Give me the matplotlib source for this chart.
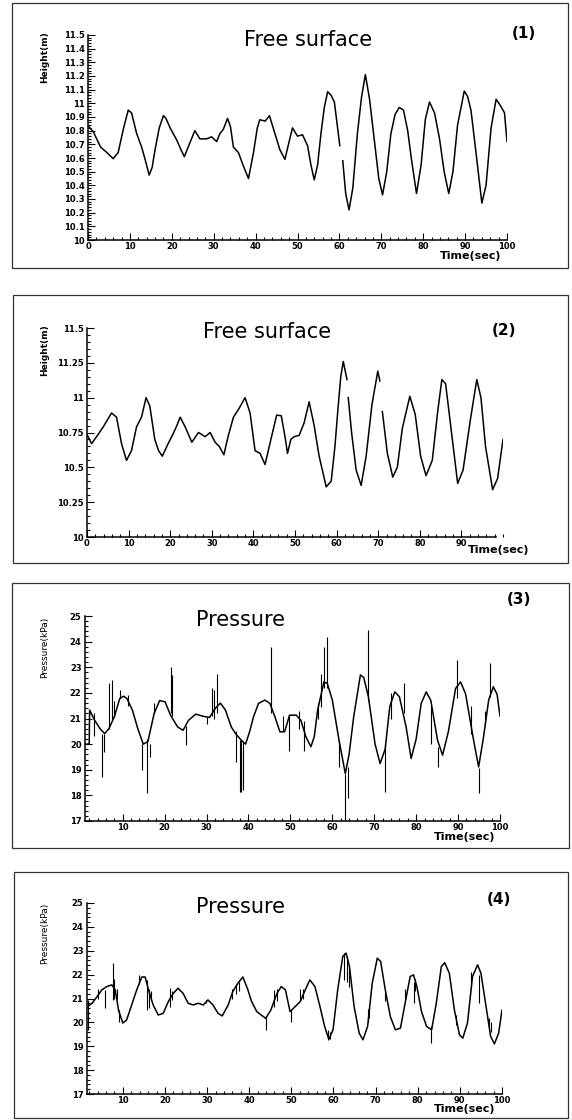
import numpy as np
import matplotlib
matplotlib.use('Agg')
import matplotlib.pyplot as plt
import matplotlib.patches as patches
from matplotlib.ticker import MultipleLocator, FuncFormatter

W, H = 572, 1120
nan = np.nan

# ---- (1) free surface ----
t1 = [0.2, 1.3, 3, 4.5, 6, 7.2, 8.5, 9.6, 10.4, 11.6, 12.8, 13.8, 14.6, 15.3, 16, 17, 18, 18.6,
      19.6, 21.2, 22.2, 23, 24.3, 25.5, 26.7, 28.3, 29.5, 30.7, 31.5, 32.3, 33.3, 34, 34.7, 35.9,
      37.1, 38.3, 39.5, 40.4, 41, 42.3, 43.3, 44.6, 45.8, 47, 48, 48.8, 50, 51.2, 52.4, 53.2, 54,
      54.8, 55.6, 56.4, 57.2, 58, 58.8, 60.1, 60.4, 60.8, 61.5, 62.3, 63.2, 64.3, 65.3, 66.2, 67.2,
      68.3, 69.4, 70.3, 71.3, 72.3, 73.3, 74.3, 75.3, 76.3, 77.2, 78.4, 79.5, 80.5, 81.5, 82.7,
      83.9, 85, 86.1, 87.1, 88.2, 89.8, 90.6, 91.4, 92.6, 94, 95, 96.2, 97.4, 98.5, 99.4, 100]
h1 = [10.83, 10.79, 10.68, 10.64, 10.595, 10.64, 10.82, 10.95, 10.93, 10.78, 10.68, 10.57, 10.475,
      10.53, 10.66, 10.82, 10.91, 10.89, 10.82, 10.73, 10.66, 10.61, 10.71, 10.80, 10.74, 10.74,
      10.755, 10.72, 10.78, 10.81, 10.89, 10.83, 10.68, 10.64, 10.54, 10.45, 10.64, 10.82, 10.88,
      10.87, 10.91, 10.78, 10.66, 10.59, 10.72, 10.82, 10.76, 10.77, 10.69, 10.55, 10.44, 10.55,
      10.78, 10.97, 11.085, 11.06, 11.01, 10.69, nan, 10.58, 10.34, 10.22, 10.38, 10.78, 11.05,
      11.21, 11.03, 10.74, 10.45, 10.33, 10.50, 10.78, 10.92, 10.97, 10.95, 10.80, 10.59, 10.34,
      10.55, 10.88, 11.01, 10.93, 10.74, 10.50, 10.34, 10.50, 10.84, 11.09, 11.05, 10.95, 10.64,
      10.27, 10.40, 10.82, 11.03, 10.98, 10.93, 10.72]

# ---- (2) free surface ----
t2 = [0.1, 1.1, 2.3, 3.9, 5.9, 7.1, 8.3, 9.5, 10.7, 11.9, 13.1, 14.2, 15.1, 16.3, 17.2, 18.1, 19.5,
      20.7, 21.6, 22.4, 23.6, 25.2, 26.8, 28.4, 29.6, 30.8, 31.8, 32.9, 33.9, 35.2, 36.5, 38, 39.2,
      40.4, 41.6, 42.8, 44.2, 45.6, 46.7, 47.6, 48.2, 49, 49.8, 51, 52.2, 53.4, 54.6, 55.8, 57.5,
      58.7, 59.6, 60.3, 61.0, 61.6, 62.5, 62.65, 62.8, 63.6, 64.7, 65.9, 67.1, 68.5, 69.9, 70.4,
      70.6, 71, 72.2, 73.5, 74.6, 75.8, 77.6, 78.9, 80.2, 81.5, 83, 84.3, 85.3, 86.2, 87.5, 89.1,
      90.4, 92.2, 93.7, 94.7, 95.8, 97.5, 98.7, 100]
h2 = [10.73, 10.67, 10.72, 10.79, 10.89, 10.86, 10.67, 10.55, 10.62, 10.79, 10.86, 11.0, 10.94,
      10.70, 10.62, 10.58, 10.67, 10.74, 10.80, 10.86, 10.79, 10.68, 10.75, 10.72, 10.75, 10.68,
      10.65, 10.59, 10.72, 10.86, 10.92, 11.0, 10.89, 10.62, 10.60, 10.52, 10.70, 10.875, 10.87,
      10.72, 10.60, 10.70, 10.72, 10.73, 10.82, 10.97, 10.80, 10.58, 10.36, 10.40, 10.65, 10.91,
      11.15, 11.26, 11.13, nan, 11.0, 10.75, 10.48, 10.37, 10.58, 10.95, 11.19, 11.12, nan, 10.90,
      10.60, 10.43, 10.50, 10.78, 11.01, 10.88, 10.58, 10.44, 10.55, 10.90, 11.13, 11.10, 10.78,
      10.385, 10.48, 10.85, 11.13, 11.0, 10.65, 10.34, 10.42, 10.70]

# ---- (3) pressure ----
t3 = [0.5, 0.6, 2.0, 2.1, 3.3, 4.6, 5.7, 6.7, 8, 9.3, 10.2, 11, 12.3, 13.6, 14.9, 16, 17.5, 18.8,
      20.1, 21.4, 23.1, 24.4, 25.7, 27.4, 29.1, 30.7, 32.1, 33.3, 34.5, 35.9, 36.9, 38.3, 39.3,
      40.3, 41.2, 42.4, 43.9, 45.1, 46.3, 47.5, 48.6, 49.8, 51.4, 52.5, 53.7, 54.9, 55.7, 56.5,
      58, 58.8, 60, 61.6, 63.1, 64, 65.1, 66.7, 67.5, 68.6, 70.2, 71.4, 72.6, 73.7, 74.9, 76,
      77.6, 78.8, 80, 81.2, 82.4, 83.5, 85.1, 86.3, 87.7, 89.4, 90.6, 91.8, 93.7, 94.9, 96, 97.3,
      98.4, 99.3, 100]
p3 = [21.46, 20.0, 20.0, 21.33, 20.93, 20.6, 20.41, 20.6, 21.07, 21.78, 21.87, 21.78, 21.33, 20.6,
      20.0, 20.1, 21.2, 21.7, 21.65, 21.13, 20.67, 20.54, 20.93, 21.17, 21.09, 21.04, 21.4, 21.6,
      21.33, 20.67, 20.41, 20.15, 20.0, 20.5, 21.07, 21.59, 21.72, 21.59, 21.07, 20.48, 20.48,
      21.13, 21.13, 20.93, 20.28, 19.9, 20.3, 21.33, 22.43, 22.37, 21.72, 20.15, 18.85, 19.6,
      21.07, 22.7, 22.6, 21.85, 20.0, 19.24, 19.8, 21.46, 22.04, 21.85, 20.67, 19.44, 20.2, 21.59,
      22.04, 21.7, 20.15, 19.57, 20.5, 22.17, 22.43, 21.95, 20.15, 19.11, 20.2, 21.72, 22.24,
      21.95, 21.1]
spike3_t = [3.1, 5.0, 5.5, 6.7, 7.4, 8.0, 9.3, 11.3, 14.5, 15.8, 16.4, 17.5, 21.4, 21.8, 25.1,
            30.1, 31.4, 31.7, 32.4, 37.0, 38.0, 38.3, 38.6, 45.3, 48.3, 49.6, 52.0, 53.2, 56.5,
            57.3, 57.9, 58.8, 61.6, 63.1, 63.7, 68.5, 72.5, 74.1, 77.1, 83.5, 85.3, 89.8, 93.0,
            95.1, 96.5, 97.6]
spike3_lo = [20.3, 18.7, 19.7, 20.6, 21.0, 21.1, 21.8, 21.5, 19.0, 18.1, 19.5, 21.2, 21.2, 21.1,
             19.95, 20.8, 21.1, 21.0, 21.2, 19.3, 18.15, 18.15, 18.2, 21.2, 20.5, 19.75, 20.6,
             19.75, 21.0, 21.45, 22.2, 22.2, 19.1, 17.0, 17.9, 21.7, 18.15, 21.0, 21.2, 20.0,
             19.1, 21.8, 20.4, 18.1, 20.7, 21.85]
spike3_hi = [21.2, 20.4, 20.4, 22.4, 22.5, 21.7, 22.1, 21.9, 20.0, 20.2, 20.0, 21.6, 23.0, 22.7,
             20.7, 21.05, 22.2, 22.1, 22.75, 20.5, 20.15, 20.15, 20.1, 23.8, 21.1, 21.13, 21.3,
             20.9, 21.6, 22.75, 23.8, 24.2, 20.15, 18.85, 19.1, 24.45, 20.0, 22.0, 22.4, 21.5,
             19.9, 23.3, 21.5, 19.05, 21.3, 23.15]

# ---- (4) pressure ----
t4 = [1.65, 2.7, 3.9, 5, 6.2, 7.4, 8.2, 9, 10, 10.9, 12.1, 13.3, 14.5, 15.3, 16.1, 17.2, 18.4,
      19.6, 20.8, 22, 23.1, 24.3, 25.5, 26.7, 27.9, 29.1, 30.2, 31.4, 32.6, 33.6, 35, 36.1, 37.3,
      38.5, 39.7, 40.5, 41.8, 43.9, 45.1, 46.6, 47.6, 48.6, 49.7, 50.9, 52.1, 53.3, 54.4, 55.6,
      56.8, 57.9, 58.9, 59.9, 61, 62.2, 63, 63.8, 64.9, 66.1, 67, 68.1, 69.2, 70.4, 71.2, 72.3,
      73.5, 74.7, 75.9, 77, 78.2, 79, 79.8, 80.9, 82.1, 83.3, 84.4, 85.6, 86.4, 87.5, 88.7, 89.9,
      90.7, 91.8, 93, 94.2, 95, 96.1, 97.3, 98.2, 99.2, 100]
p4 = [20.66, 20.8, 21.08, 21.36, 21.5, 21.57, 21.36, 20.5, 19.97, 20.1, 20.73, 21.36, 21.9, 21.9,
      21.36, 20.73, 20.31, 20.38, 20.87, 21.22, 21.43, 21.22, 20.8, 20.73, 20.8, 20.73, 20.94,
      20.73, 20.38, 20.27, 20.73, 21.29, 21.64, 21.9, 21.36, 20.9, 20.45, 20.17, 20.5, 21.22,
      21.5, 21.36, 20.45, 20.66, 20.87, 21.36, 21.78, 21.5, 20.66, 19.83, 19.29, 19.69, 21.36,
      22.76, 22.9, 22.34, 20.66, 19.55, 19.27, 19.83, 21.64, 22.69, 22.55, 21.36, 20.24, 19.69,
      19.76, 20.8, 21.92, 21.99, 21.5, 20.45, 19.83, 19.69, 20.8, 22.34, 22.5, 22.06, 20.52,
      19.48, 19.34, 19.97, 21.92, 22.41, 22.06, 20.8, 19.41, 19.1, 19.55, 20.52]
spike4_t = [1.65, 4.2, 5.8, 7.6, 8.0, 8.6, 9.2, 13.9, 15.8, 16.3, 16.8, 21.2, 21.6, 29.8, 36.0,
            36.8, 37.6, 43.9, 45.8, 46.6, 49.9, 52.1, 52.7, 58.7, 59.2, 62.6, 63.1, 63.7, 68.1,
            68.5, 72.3, 77.0, 79.0, 79.4, 83.1, 89.1, 92.6, 94.6, 97.0, 97.4]
spike4_lo = [19.7, 21.0, 20.6, 20.94, 21.0, 21.0, 20.0, 21.6, 20.5, 20.6, 20.9, 20.66, 20.94, 20.8,
             21.0, 21.2, 21.3, 19.7, 20.66, 20.9, 20.0, 20.9, 21.0, 19.27, 19.3, 21.78, 21.7, 21.5,
             20.0, 20.2, 20.9, 21.0, 20.8, 21.3, 19.13, 19.9, 21.4, 20.8, 19.8, 19.6]
spike4_hi = [20.94, 21.4, 21.36, 22.48, 21.8, 21.4, 20.5, 22.0, 21.78, 21.4, 21.3, 21.43, 21.3,
             20.94, 21.4, 21.6, 21.7, 20.24, 21.36, 21.4, 20.5, 21.4, 21.4, 19.7, 19.6, 22.9, 22.8,
             22.3, 20.55, 20.6, 21.3, 21.4, 21.7, 21.8, 19.83, 20.3, 22.1, 22.0, 20.2, 20.0]

titles = ['Free surface', 'Free surface', 'Pressure', 'Pressure']
tags = ['(1)', '(2)', '(3)', '(4)']
ylabels = ['Height(m)', 'Height(m)', 'Pressure(kPa)', 'Pressure(kPa)']

fig = plt.figure(figsize=(W / 100, H / 100), dpi=100)
fig.patch.set_facecolor('white')


def fx(px):
    return px / W


def fy(py):
    return 1 - py / H


# pixel layout: axes box, frame box, title centre, tag centre, ylabel centre, xlabel centre
layout = [
    dict(ax=(88, 35, 507, 240), frame=(12, 3, 568, 268), title=(308, 40), tag=(524, 33),
         ylab=(45, 57), xlab=(471, 256), xlim=(0, 100), ylim=(10, 11.5)),
    dict(ax=(87, 328, 503, 537), frame=(13, 295, 568, 563), title=(267, 332), tag=(504, 330),
         ylab=(45, 350), xlab=(499, 550), xlim=(0, 100), ylim=(10, 11.5)),
    dict(ax=(85, 616, 500, 821), frame=(12, 583, 569, 848), title=(240, 620), tag=(519, 600),
         ylab=(45, 647), xlab=(465, 837), xlim=(1, 100), ylim=(17, 25)),
    dict(ax=(87, 903, 502, 1094), frame=(14, 872, 568, 1118), title=(240, 907), tag=(499, 899),
         ylab=(45, 933), xlab=(465, 1109), xlim=(1.5, 100), ylim=(17, 25)),
]

series = [(t1, h1), (t2, h2), (t3, p3), (t4, p4)]
spikes = [None, None, (spike3_t, spike3_lo, spike3_hi), (spike4_t, spike4_lo, spike4_hi)]

fmt = FuncFormatter(lambda v, pos: '%g' % round(v, 3))

for i, L in enumerate(layout):
    l, t, r, b = L['ax']
    ax = fig.add_axes([fx(l), fy(b), fx(r - l), (b - t) / H])
    x, y = series[i]
    ax.plot(x, y, color='black', lw=1.1)
    if spikes[i] is not None:
        st, lo, hi = spikes[i]
        ax.vlines(st, lo, hi, color='black', lw=0.8)
    ax.set_xlim(*L['xlim'])
    ax.set_ylim(*L['ylim'])

    for s in ('top', 'right'):
        ax.spines[s].set_visible(False)
    for s in ('left', 'bottom'):
        ax.spines[s].set_linewidth(1.1)

    if i == 0:
        ax.set_xticks(np.arange(0, 101, 10))
        ax.yaxis.set_major_locator(MultipleLocator(0.1))
        ax.yaxis.set_minor_locator(MultipleLocator(0.02))
    elif i == 1:
        ax.set_xticks(np.arange(0, 91, 10))
        ax.yaxis.set_major_locator(MultipleLocator(0.25))
        ax.yaxis.set_minor_locator(MultipleLocator(0.05))
        ax.spines['bottom'].set_bounds(0, 98.3)
    else:
        ax.set_xticks(np.arange(10, 101, 10))
        ax.yaxis.set_major_locator(MultipleLocator(1))
        ax.yaxis.set_minor_locator(MultipleLocator(0.2))
    ax.xaxis.set_minor_locator(MultipleLocator(2))
    ax.yaxis.set_major_formatter(fmt)
    ax.xaxis.set_major_formatter(fmt)

    ax.tick_params(which='both', direction='in', labelsize=6, width=0.8)
    ax.tick_params(axis='x', pad=1.5)
    ax.tick_params(axis='y', pad=2.5)
    ax.tick_params(which='major', length=5)
    ax.tick_params(which='minor', length=2.5)
    plt.setp(ax.get_xticklabels() + ax.get_yticklabels(), fontweight='bold')

    # axis labels
    yl_x, yl_y = L['ylab']
    ax.set_ylabel(ylabels[i], fontsize=6.5, fontweight='bold' if i < 2 else 'normal')
    ax.yaxis.set_label_coords((yl_x - l) / (r - l), (b - yl_y) / (b - t))
    ax.yaxis.label.set_va('center')
    xl_x, xl_y = L['xlab']
    ax.set_xlabel('Time(sec)', fontsize=8, fontweight='bold')
    ax.xaxis.set_label_coords((xl_x - l) / (r - l), (b - xl_y) / (b - t))
    ax.xaxis.label.set_va('center')

    # titles and tags
    tx, ty = L['title']
    fig.text(fx(tx), fy(ty), titles[i], fontsize=15, ha='center', va='center',
             family='DejaVu Sans')
    gx, gy = L['tag']
    fig.text(fx(gx), fy(gy), tags[i], fontsize=11, ha='center', va='center',
             fontweight='bold', family='DejaVu Sans')

    # outer frame
    x0, y0, x1, y1 = L['frame']
    fig.add_artist(patches.Rectangle((fx(x0), fy(y1)), fx(x1 - x0), (y1 - y0) / H,
                                     transform=fig.transFigure, fill=False,
                                     lw=0.9, ec='0.2'))

fig.savefig('out.png', dpi=100, facecolor='white')
